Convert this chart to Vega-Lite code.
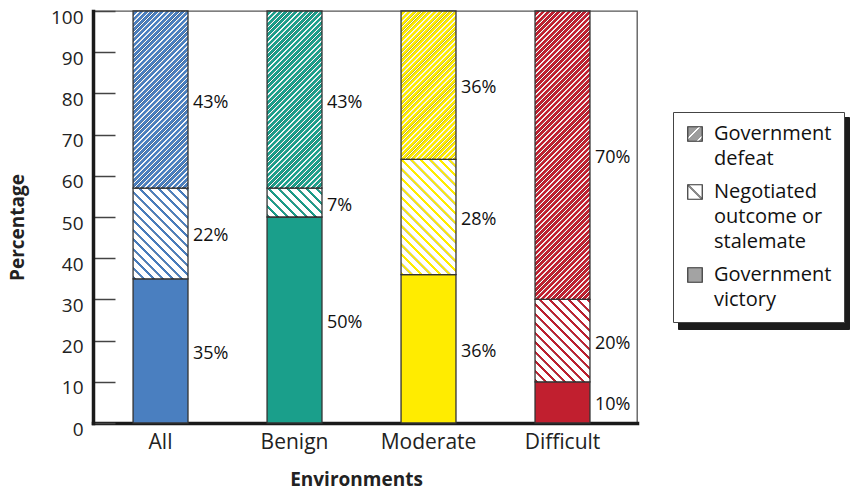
{
  "$schema": "https://vega.github.io/schema/vega-lite/v6.json",
  "width": 544,
  "height": 412,
  "autosize": {"type": "none"},
  "padding": {"left": 93, "top": 11, "right": 214, "bottom": 67},
  "background": "white",
  "config": {
    "axis": {"labelFont": "Open Sans", "titleFont": "Open Sans", "labelColor": "#222", "titleColor": "#222"},
    "legend": {"labelFont": "Open Sans"},
    "text": {"font": "Open Sans"},
    "view": {"stroke": "#555", "strokeWidth": 1.3}
  },
  "params": [
    {"name": "defStops", "value": [
{"offset":0,"color":"transparent"},{"offset":0.0012,"color":"#fff"},{"offset":0.0033,"color":"#fff"},{"offset":0.0045,"color":"transparent"},
{"offset":0.01,"color":"transparent"},{"offset":0.0112,"color":"#fff"},{"offset":0.0133,"color":"#fff"},{"offset":0.0145,"color":"transparent"},
{"offset":0.02,"color":"transparent"},{"offset":0.0212,"color":"#fff"},{"offset":0.0233,"color":"#fff"},{"offset":0.0245,"color":"transparent"},
{"offset":0.03,"color":"transparent"},{"offset":0.0312,"color":"#fff"},{"offset":0.0333,"color":"#fff"},{"offset":0.0345,"color":"transparent"},
{"offset":0.04,"color":"transparent"},{"offset":0.0412,"color":"#fff"},{"offset":0.0433,"color":"#fff"},{"offset":0.0445,"color":"transparent"},
{"offset":0.05,"color":"transparent"},{"offset":0.0512,"color":"#fff"},{"offset":0.0533,"color":"#fff"},{"offset":0.0545,"color":"transparent"},
{"offset":0.06,"color":"transparent"},{"offset":0.0612,"color":"#fff"},{"offset":0.0633,"color":"#fff"},{"offset":0.0645,"color":"transparent"},
{"offset":0.07,"color":"transparent"},{"offset":0.0712,"color":"#fff"},{"offset":0.0733,"color":"#fff"},{"offset":0.0745,"color":"transparent"},
{"offset":0.08,"color":"transparent"},{"offset":0.0812,"color":"#fff"},{"offset":0.0833,"color":"#fff"},{"offset":0.0845,"color":"transparent"},
{"offset":0.09,"color":"transparent"},{"offset":0.0912,"color":"#fff"},{"offset":0.0933,"color":"#fff"},{"offset":0.0945,"color":"transparent"},
{"offset":0.10,"color":"transparent"},{"offset":0.1012,"color":"#fff"},{"offset":0.1033,"color":"#fff"},{"offset":0.1045,"color":"transparent"},
{"offset":0.11,"color":"transparent"},{"offset":0.1112,"color":"#fff"},{"offset":0.1133,"color":"#fff"},{"offset":0.1145,"color":"transparent"},
{"offset":0.12,"color":"transparent"},{"offset":0.1212,"color":"#fff"},{"offset":0.1233,"color":"#fff"},{"offset":0.1245,"color":"transparent"},
{"offset":0.13,"color":"transparent"},{"offset":0.1312,"color":"#fff"},{"offset":0.1333,"color":"#fff"},{"offset":0.1345,"color":"transparent"},
{"offset":0.14,"color":"transparent"},{"offset":0.1412,"color":"#fff"},{"offset":0.1433,"color":"#fff"},{"offset":0.1445,"color":"transparent"},
{"offset":0.15,"color":"transparent"},{"offset":0.1512,"color":"#fff"},{"offset":0.1533,"color":"#fff"},{"offset":0.1545,"color":"transparent"},
{"offset":0.16,"color":"transparent"},{"offset":0.1612,"color":"#fff"},{"offset":0.1633,"color":"#fff"},{"offset":0.1645,"color":"transparent"},
{"offset":0.17,"color":"transparent"},{"offset":0.1712,"color":"#fff"},{"offset":0.1733,"color":"#fff"},{"offset":0.1745,"color":"transparent"},
{"offset":0.18,"color":"transparent"},{"offset":0.1812,"color":"#fff"},{"offset":0.1833,"color":"#fff"},{"offset":0.1845,"color":"transparent"},
{"offset":0.19,"color":"transparent"},{"offset":0.1912,"color":"#fff"},{"offset":0.1933,"color":"#fff"},{"offset":0.1945,"color":"transparent"},
{"offset":0.20,"color":"transparent"},{"offset":0.2012,"color":"#fff"},{"offset":0.2033,"color":"#fff"},{"offset":0.2045,"color":"transparent"},
{"offset":0.21,"color":"transparent"},{"offset":0.2112,"color":"#fff"},{"offset":0.2133,"color":"#fff"},{"offset":0.2145,"color":"transparent"},
{"offset":0.22,"color":"transparent"},{"offset":0.2212,"color":"#fff"},{"offset":0.2233,"color":"#fff"},{"offset":0.2245,"color":"transparent"},
{"offset":0.23,"color":"transparent"},{"offset":0.2312,"color":"#fff"},{"offset":0.2333,"color":"#fff"},{"offset":0.2345,"color":"transparent"},
{"offset":0.24,"color":"transparent"},{"offset":0.2412,"color":"#fff"},{"offset":0.2433,"color":"#fff"},{"offset":0.2445,"color":"transparent"},
{"offset":0.25,"color":"transparent"},{"offset":0.2512,"color":"#fff"},{"offset":0.2533,"color":"#fff"},{"offset":0.2545,"color":"transparent"},
{"offset":0.26,"color":"transparent"},{"offset":0.2612,"color":"#fff"},{"offset":0.2633,"color":"#fff"},{"offset":0.2645,"color":"transparent"},
{"offset":0.27,"color":"transparent"},{"offset":0.2712,"color":"#fff"},{"offset":0.2733,"color":"#fff"},{"offset":0.2745,"color":"transparent"},
{"offset":0.28,"color":"transparent"},{"offset":0.2812,"color":"#fff"},{"offset":0.2833,"color":"#fff"},{"offset":0.2845,"color":"transparent"},
{"offset":0.29,"color":"transparent"},{"offset":0.2912,"color":"#fff"},{"offset":0.2933,"color":"#fff"},{"offset":0.2945,"color":"transparent"},
{"offset":0.30,"color":"transparent"},{"offset":0.3012,"color":"#fff"},{"offset":0.3033,"color":"#fff"},{"offset":0.3045,"color":"transparent"},
{"offset":0.31,"color":"transparent"},{"offset":0.3112,"color":"#fff"},{"offset":0.3133,"color":"#fff"},{"offset":0.3145,"color":"transparent"},
{"offset":0.32,"color":"transparent"},{"offset":0.3212,"color":"#fff"},{"offset":0.3233,"color":"#fff"},{"offset":0.3245,"color":"transparent"},
{"offset":0.33,"color":"transparent"},{"offset":0.3312,"color":"#fff"},{"offset":0.3333,"color":"#fff"},{"offset":0.3345,"color":"transparent"},
{"offset":0.34,"color":"transparent"},{"offset":0.3412,"color":"#fff"},{"offset":0.3433,"color":"#fff"},{"offset":0.3445,"color":"transparent"},
{"offset":0.35,"color":"transparent"},{"offset":0.3512,"color":"#fff"},{"offset":0.3533,"color":"#fff"},{"offset":0.3545,"color":"transparent"},
{"offset":0.36,"color":"transparent"},{"offset":0.3612,"color":"#fff"},{"offset":0.3633,"color":"#fff"},{"offset":0.3645,"color":"transparent"},
{"offset":0.37,"color":"transparent"},{"offset":0.3712,"color":"#fff"},{"offset":0.3733,"color":"#fff"},{"offset":0.3745,"color":"transparent"},
{"offset":0.38,"color":"transparent"},{"offset":0.3812,"color":"#fff"},{"offset":0.3833,"color":"#fff"},{"offset":0.3845,"color":"transparent"},
{"offset":0.39,"color":"transparent"},{"offset":0.3912,"color":"#fff"},{"offset":0.3933,"color":"#fff"},{"offset":0.3945,"color":"transparent"},
{"offset":0.40,"color":"transparent"},{"offset":0.4012,"color":"#fff"},{"offset":0.4033,"color":"#fff"},{"offset":0.4045,"color":"transparent"},
{"offset":0.41,"color":"transparent"},{"offset":0.4112,"color":"#fff"},{"offset":0.4133,"color":"#fff"},{"offset":0.4145,"color":"transparent"},
{"offset":0.42,"color":"transparent"},{"offset":0.4212,"color":"#fff"},{"offset":0.4233,"color":"#fff"},{"offset":0.4245,"color":"transparent"},
{"offset":0.43,"color":"transparent"},{"offset":0.4312,"color":"#fff"},{"offset":0.4333,"color":"#fff"},{"offset":0.4345,"color":"transparent"},
{"offset":0.44,"color":"transparent"},{"offset":0.4412,"color":"#fff"},{"offset":0.4433,"color":"#fff"},{"offset":0.4445,"color":"transparent"},
{"offset":0.45,"color":"transparent"},{"offset":0.4512,"color":"#fff"},{"offset":0.4533,"color":"#fff"},{"offset":0.4545,"color":"transparent"},
{"offset":0.46,"color":"transparent"},{"offset":0.4612,"color":"#fff"},{"offset":0.4633,"color":"#fff"},{"offset":0.4645,"color":"transparent"},
{"offset":0.47,"color":"transparent"},{"offset":0.4712,"color":"#fff"},{"offset":0.4733,"color":"#fff"},{"offset":0.4745,"color":"transparent"},
{"offset":0.48,"color":"transparent"},{"offset":0.4812,"color":"#fff"},{"offset":0.4833,"color":"#fff"},{"offset":0.4845,"color":"transparent"},
{"offset":0.49,"color":"transparent"},{"offset":0.4912,"color":"#fff"},{"offset":0.4933,"color":"#fff"},{"offset":0.4945,"color":"transparent"},
{"offset":0.50,"color":"transparent"},{"offset":0.5012,"color":"#fff"},{"offset":0.5033,"color":"#fff"},{"offset":0.5045,"color":"transparent"},
{"offset":0.51,"color":"transparent"},{"offset":0.5112,"color":"#fff"},{"offset":0.5133,"color":"#fff"},{"offset":0.5145,"color":"transparent"},
{"offset":0.52,"color":"transparent"},{"offset":0.5212,"color":"#fff"},{"offset":0.5233,"color":"#fff"},{"offset":0.5245,"color":"transparent"},
{"offset":0.53,"color":"transparent"},{"offset":0.5312,"color":"#fff"},{"offset":0.5333,"color":"#fff"},{"offset":0.5345,"color":"transparent"},
{"offset":0.54,"color":"transparent"},{"offset":0.5412,"color":"#fff"},{"offset":0.5433,"color":"#fff"},{"offset":0.5445,"color":"transparent"},
{"offset":0.55,"color":"transparent"},{"offset":0.5512,"color":"#fff"},{"offset":0.5533,"color":"#fff"},{"offset":0.5545,"color":"transparent"},
{"offset":0.56,"color":"transparent"},{"offset":0.5612,"color":"#fff"},{"offset":0.5633,"color":"#fff"},{"offset":0.5645,"color":"transparent"},
{"offset":0.57,"color":"transparent"},{"offset":0.5712,"color":"#fff"},{"offset":0.5733,"color":"#fff"},{"offset":0.5745,"color":"transparent"},
{"offset":0.58,"color":"transparent"},{"offset":0.5812,"color":"#fff"},{"offset":0.5833,"color":"#fff"},{"offset":0.5845,"color":"transparent"},
{"offset":0.59,"color":"transparent"},{"offset":0.5912,"color":"#fff"},{"offset":0.5933,"color":"#fff"},{"offset":0.5945,"color":"transparent"},
{"offset":0.60,"color":"transparent"},{"offset":0.6012,"color":"#fff"},{"offset":0.6033,"color":"#fff"},{"offset":0.6045,"color":"transparent"},
{"offset":0.61,"color":"transparent"},{"offset":0.6112,"color":"#fff"},{"offset":0.6133,"color":"#fff"},{"offset":0.6145,"color":"transparent"},
{"offset":0.62,"color":"transparent"},{"offset":0.6212,"color":"#fff"},{"offset":0.6233,"color":"#fff"},{"offset":0.6245,"color":"transparent"},
{"offset":0.63,"color":"transparent"},{"offset":0.6312,"color":"#fff"},{"offset":0.6333,"color":"#fff"},{"offset":0.6345,"color":"transparent"},
{"offset":0.64,"color":"transparent"},{"offset":0.6412,"color":"#fff"},{"offset":0.6433,"color":"#fff"},{"offset":0.6445,"color":"transparent"},
{"offset":0.65,"color":"transparent"},{"offset":0.6512,"color":"#fff"},{"offset":0.6533,"color":"#fff"},{"offset":0.6545,"color":"transparent"},
{"offset":0.66,"color":"transparent"},{"offset":0.6612,"color":"#fff"},{"offset":0.6633,"color":"#fff"},{"offset":0.6645,"color":"transparent"}
    ]},
    {"name": "negStops", "value": [
{"offset":0,"color":"#fff"},{"offset":0.003,"color":"transparent"},{"offset":0.014,"color":"transparent"},{"offset":0.017,"color":"#fff"},
{"offset":0.05,"color":"#fff"},{"offset":0.053,"color":"transparent"},{"offset":0.064,"color":"transparent"},{"offset":0.067,"color":"#fff"},
{"offset":0.10,"color":"#fff"},{"offset":0.103,"color":"transparent"},{"offset":0.114,"color":"transparent"},{"offset":0.117,"color":"#fff"},
{"offset":0.15,"color":"#fff"},{"offset":0.153,"color":"transparent"},{"offset":0.164,"color":"transparent"},{"offset":0.167,"color":"#fff"},
{"offset":0.20,"color":"#fff"},{"offset":0.203,"color":"transparent"},{"offset":0.214,"color":"transparent"},{"offset":0.217,"color":"#fff"},
{"offset":0.25,"color":"#fff"},{"offset":0.253,"color":"transparent"},{"offset":0.264,"color":"transparent"},{"offset":0.267,"color":"#fff"},
{"offset":0.30,"color":"#fff"},{"offset":0.303,"color":"transparent"},{"offset":0.314,"color":"transparent"},{"offset":0.317,"color":"#fff"},
{"offset":0.35,"color":"#fff"},{"offset":0.353,"color":"transparent"},{"offset":0.364,"color":"transparent"},{"offset":0.367,"color":"#fff"},
{"offset":0.40,"color":"#fff"},{"offset":0.403,"color":"transparent"},{"offset":0.414,"color":"transparent"},{"offset":0.417,"color":"#fff"},
{"offset":0.45,"color":"#fff"},{"offset":0.453,"color":"transparent"},{"offset":0.464,"color":"transparent"},{"offset":0.467,"color":"#fff"},
{"offset":0.50,"color":"#fff"},{"offset":0.503,"color":"transparent"},{"offset":0.514,"color":"transparent"},{"offset":0.517,"color":"#fff"},
{"offset":0.55,"color":"#fff"},{"offset":0.553,"color":"transparent"},{"offset":0.564,"color":"transparent"},{"offset":0.567,"color":"#fff"},
{"offset":0.60,"color":"#fff"},{"offset":0.603,"color":"transparent"},{"offset":0.614,"color":"transparent"},{"offset":0.617,"color":"#fff"},
{"offset":0.65,"color":"#fff"},{"offset":0.653,"color":"transparent"},{"offset":0.664,"color":"transparent"},{"offset":0.667,"color":"#fff"},
{"offset":0.70,"color":"#fff"},{"offset":0.703,"color":"transparent"},{"offset":0.714,"color":"transparent"},{"offset":0.717,"color":"#fff"},
{"offset":0.75,"color":"#fff"},{"offset":0.753,"color":"transparent"},{"offset":0.764,"color":"transparent"},{"offset":0.767,"color":"#fff"},
{"offset":0.80,"color":"#fff"},{"offset":0.803,"color":"transparent"},{"offset":0.814,"color":"transparent"},{"offset":0.817,"color":"#fff"},
{"offset":0.85,"color":"#fff"},{"offset":0.853,"color":"transparent"},{"offset":0.864,"color":"transparent"},{"offset":0.867,"color":"#fff"},
{"offset":0.90,"color":"#fff"},{"offset":0.903,"color":"transparent"},{"offset":0.914,"color":"transparent"},{"offset":0.917,"color":"#fff"},
{"offset":0.95,"color":"#fff"},{"offset":0.953,"color":"transparent"},{"offset":0.964,"color":"transparent"},{"offset":0.967,"color":"#fff"}
    ]}
  ],
  "data": {"values": [
    {"env": "All", "outcome": "Government victory", "pct": 35},
    {"env": "All", "outcome": "Negotiated outcome or stalemate", "pct": 22},
    {"env": "All", "outcome": "Government defeat", "pct": 43},
    {"env": "Benign", "outcome": "Government victory", "pct": 50},
    {"env": "Benign", "outcome": "Negotiated outcome or stalemate", "pct": 7},
    {"env": "Benign", "outcome": "Government defeat", "pct": 43},
    {"env": "Moderate", "outcome": "Government victory", "pct": 36},
    {"env": "Moderate", "outcome": "Negotiated outcome or stalemate", "pct": 28},
    {"env": "Moderate", "outcome": "Government defeat", "pct": 36},
    {"env": "Difficult", "outcome": "Government victory", "pct": 10},
    {"env": "Difficult", "outcome": "Negotiated outcome or stalemate", "pct": 20},
    {"env": "Difficult", "outcome": "Government defeat", "pct": 70}
  ]},
  "transform": [
    {"calculate": "indexof(['Government victory','Negotiated outcome or stalemate','Government defeat'], datum.outcome)", "as": "rank"},
    {"stack": "pct", "groupby": ["env"], "sort": [{"field": "rank", "order": "ascending"}], "as": ["y0", "y1"]},
    {"calculate": "(datum.y0 + datum.y1) / 2", "as": "mid"},
    {"calculate": "datum.pct + '%'", "as": "label"}
  ],
  "encoding": {
    "x": {
      "field": "env", "type": "nominal", "sort": ["All", "Benign", "Moderate", "Difficult"], "title": "Environments",
      "scale": {"paddingInner": 0.59, "paddingOuter": 0.325, "align": 0.46},
      "axis": {
        "title": "Environments", "labelAngle": 0, "ticks": false, "labelFontSize": 21, "labelPadding": 8,
        "domainColor": "#1a1a1a", "domainWidth": 3.5, "domainCap": "square",
        "titleFontSize": 19, "titleFontWeight": "bold", "titleX": 263, "titleY": 56, "titleBaseline": "middle"
      }
    }
  },
  "layer": [
    {
      "mark": {"type": "bar"},
      "encoding": {
        "y": {
          "field": "y0", "type": "quantitative", "title": "Percentage", "scale": {"domain": [0, 100], "nice": false},
          "axis": {
            "title": "Percentage", "values": [0, 10, 20, 30, 40, 50, 60, 70, 80, 90, 100], "grid": false,
            "tickSize": -22, "tickColor": "#444", "tickWidth": 1.5, "labelFontSize": 19, "labelPadding": 32, "labelOffset": 6,
            "domainColor": "#1a1a1a", "domainWidth": 3.5, "domainCap": "square",
            "titleFontSize": 19, "titleFontWeight": "bold", "titleX": -76, "titleY": 216, "titleAngle": -90, "titleBaseline": "middle"
          }
        },
        "y2": {"field": "y1"},
        "color": {
          "field": "outcome", "type": "nominal",
          "scale": {
            "domain": ["Government defeat", "Negotiated outcome or stalemate", "Government victory"],
            "range": [
              {"expr": "{gradient: 'linear', x1: 0, y1: 0, x2: 1, y2: 1, stops: [{offset: 0, color: '#9d9d9d'}, {offset: 0.38, color: '#9d9d9d'}, {offset: 0.39, color: '#fff'}, {offset: 0.45, color: '#fff'}, {offset: 0.46, color: '#9d9d9d'}, {offset: 0.78, color: '#9d9d9d'}, {offset: 0.79, color: '#fff'}, {offset: 0.85, color: '#fff'}, {offset: 0.86, color: '#9d9d9d'}, {offset: 1, color: '#9d9d9d'}]}"},
              {"expr": "{gradient: 'linear', x1: 0, y1: 1, x2: 1, y2: 0, stops: [{offset: 0, color: '#fff'}, {offset: 0.43, color: '#fff'}, {offset: 0.45, color: '#8a8a8a'}, {offset: 0.55, color: '#8a8a8a'}, {offset: 0.57, color: '#fff'}, {offset: 1, color: '#fff'}]}"},
              "#a3a3a3"
            ]
          },
          "legend": {
            "orient": "none", "legendX": 580, "legendY": 101, "title": null, "zindex": 1,
            "fillColor": "white", "strokeColor": "#444", "padding": 12, "rowPadding": 13,
            "symbolType": "square", "symbolSize": 210, "symbolStrokeWidth": 1.2, "symbolStrokeColor": "#333",
            "labelFontSize": 20, "labelColor": "#111", "labelOffset": 9, "labelLimit": 220, "labelBaseline": "top",
            "labelExpr": "datum.label == 'Government defeat' ? ['Government', 'defeat'] : datum.label == 'Negotiated outcome or stalemate' ? ['Negotiated', 'outcome or', 'stalemate'] : ['Government', 'victory']",
            "encode": {
              "labels": {"update": {"lineHeight": {"value": 25}, "dy": {"value": -10}}}
            }
          }
        },
        "opacity": {
          "field": "outcome", "type": "nominal", "scale": {"range": [1, 1]},
          "legend": {
            "orient": "none", "legendX": 585, "legendY": 106, "title": null, "zindex": 0,
            "fillColor": "#1c1c1c", "strokeColor": "#1c1c1c", "padding": 12, "rowPadding": 13,
            "symbolType": "square", "symbolSize": 210, "symbolFillColor": "transparent", "symbolStrokeColor": "transparent",
            "labelFontSize": 20, "labelColor": "transparent", "labelOffset": 9, "labelLimit": 220, "labelBaseline": "top",
            "labelExpr": "datum.label == 'Government defeat' ? ['Government', 'defeat'] : datum.label == 'Negotiated outcome or stalemate' ? ['Negotiated', 'outcome or', 'stalemate'] : ['Government', 'victory']",
            "encode": {
              "labels": {"update": {"lineHeight": {"value": 25}, "dy": {"value": -10}}}
            }
          }
        }
      }
    },
    {
      "mark": {"type": "bar"},
      "encoding": {
        "y": {"field": "y0", "type": "quantitative", "title": "Percentage"},
        "y2": {"field": "y1"},
        "fill": {
          "field": "env", "type": "nominal",
          "scale": {"domain": ["All", "Benign", "Moderate", "Difficult"], "range": ["#4a7fc0", "#1a9f8b", "#ffec00", "#c11f2f"]},
          "legend": null
        }
      }
    },
    {
      "mark": {"type": "bar", "stroke": "#333", "strokeWidth": 1.3},
      "encoding": {
        "y": {"field": "y0", "type": "quantitative", "title": "Percentage"},
        "y2": {"field": "y1"},
        "fill": {
          "condition": [
            {"test": "datum.outcome === 'Government defeat' && (datum.env === 'All' || datum.env === 'Benign')", "value": {"expr": "{gradient: 'linear', x1: 0, y1: 0, x2: 0.83039, y2: 2.67769, stops: defStops}"}},
            {"test": "datum.outcome === 'Government defeat' && datum.env === 'Moderate'", "value": {"expr": "{gradient: 'linear', x1: 0, y1: 0, x2: 1.14197, y2: 3.08293, stops: defStops}"}},
            {"test": "datum.outcome === 'Government defeat' && datum.env === 'Difficult'", "value": {"expr": "{gradient: 'linear', x1: 0, y1: 0, x2: 0.33145, y2: 1.73991, stops: defStops}"}},
            {"test": "datum.outcome === 'Negotiated outcome or stalemate' && datum.env === 'All'", "value": {"expr": "{gradient: 'linear', x1: 0, y1: 1, x2: 0.92920, y2: -0.53299, stops: negStops}"}},
            {"test": "datum.outcome === 'Negotiated outcome or stalemate' && datum.env === 'Benign'", "value": {"expr": "{gradient: 'linear', x1: 0, y1: 1, x2: 2.71127, y2: -0.42323, stops: negStops}"}},
            {"test": "datum.outcome === 'Negotiated outcome or stalemate' && datum.env === 'Moderate'", "value": {"expr": "{gradient: 'linear', x1: 0, y1: 1, x2: 0.63938, y2: -0.34253, stops: negStops}"}},
            {"test": "datum.outcome === 'Negotiated outcome or stalemate' && datum.env === 'Difficult'", "value": {"expr": "{gradient: 'linear', x1: 0, y1: 1, x2: 1.06428, y2: -0.59623, stops: negStops}"}}
          ],
          "value": "transparent"
        }
      }
    },
    {
      "mark": {"type": "text", "align": "left", "baseline": "middle", "dx": 5, "dy": 3, "fontSize": 18, "color": "#111"},
      "encoding": {
        "x": {"field": "env", "type": "nominal", "sort": ["All", "Benign", "Moderate", "Difficult"], "bandPosition": 1, "title": "Environments"},
        "y": {"field": "mid", "type": "quantitative", "title": "Percentage"},
        "text": {"field": "label"}
      }
    }
  ]
}
